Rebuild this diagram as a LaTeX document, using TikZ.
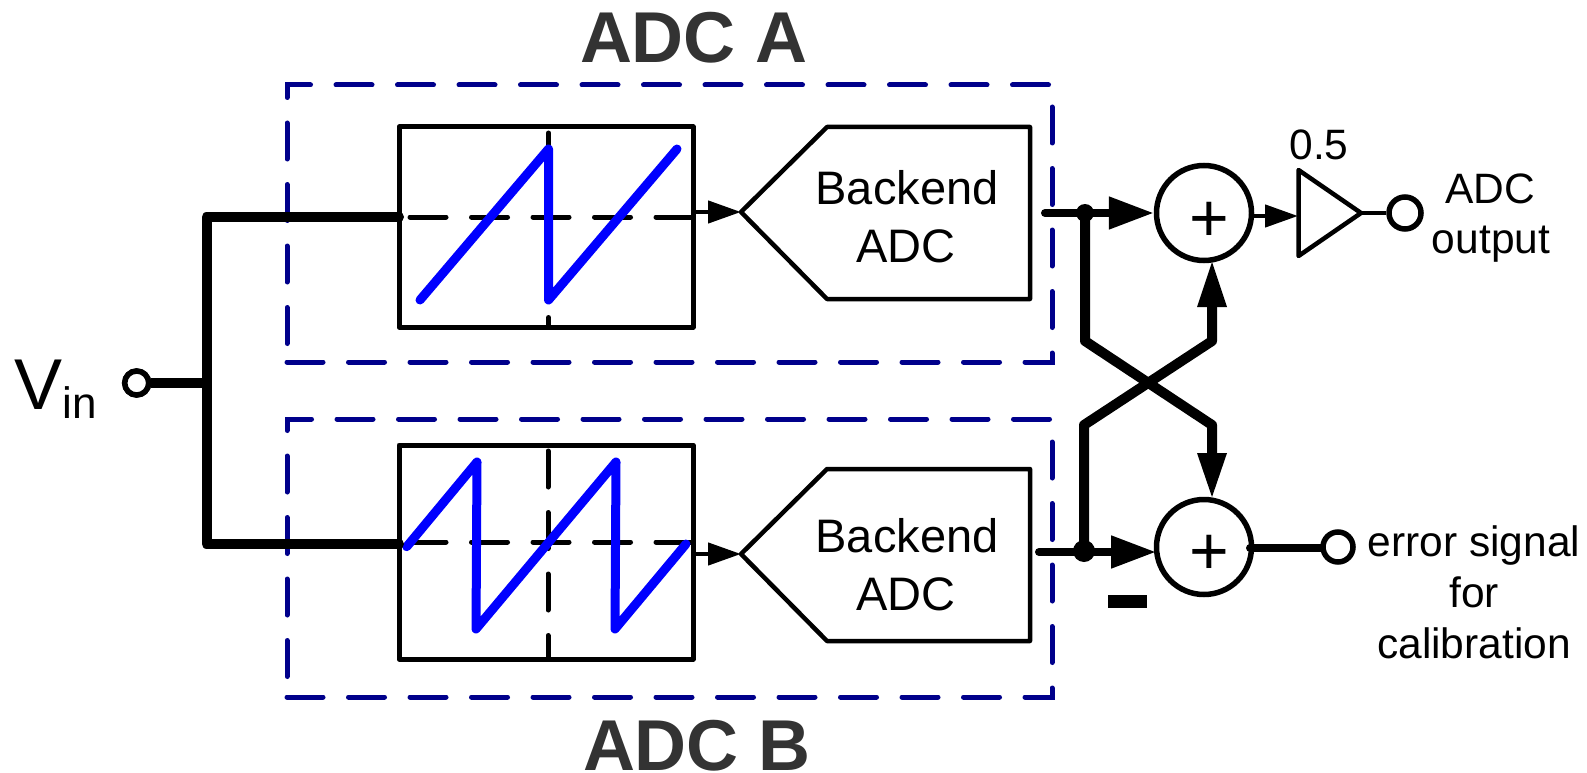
\documentclass[tikz,border=0pt]{standalone}
\usepackage{fontspec}
\setmainfont{Liberation Sans}
\usetikzlibrary{arrows.meta,calc}
\definecolor{framenavy}{RGB}{0,0,139}
\definecolor{titlegray}{RGB}{51,51,51}
\definecolor{rampblue}{RGB}{0,0,255}
\tikzset{
  frame/.style={draw=framenavy,line width=5pt,line cap=round,line join=miter,dash pattern=on 36pt off 25.5pt},
  adcbox/.style={draw=black,line width=5pt,rectangle,inner sep=0pt,minimum width=294pt,minimum height=#1,line join=round},
  guide/.style={draw=black,line width=5pt,line cap=round,dash pattern=on 36pt off 25.5pt},
  ramp/.style={draw=rampblue,line width=9pt,line cap=round,line join=round},
  outline/.style={draw=black,line width=4.5pt,line join=round},
  wire/.style={draw=black,line width=10pt,line cap=round,line join=round},
  thinwire/.style={draw=black,line width=4.5pt},
  midwire/.style={draw=black,line width=8pt,line cap=round},
  bighead/.style={-{Triangle[length=45pt,width=31pt]}},
  smallhead/.style={-{Triangle[length=33pt,width=22pt]}},
  sumnode/.style={circle,draw=black,line width=5.5pt,fill=white,inner sep=0pt,minimum size=95pt},
  port/.style={circle,draw=black,line width=5.5pt,fill=white,inner sep=0pt,minimum size=#1},
  dot/.style={circle,fill=black,inner sep=0pt,minimum size=#1},
  lbl/.style={anchor=base,inner sep=0pt,font=\fontsize{42.5}{42.5}\selectfont,text=black},
  blbl/.style={anchor=base,inner sep=0pt,font=\fontsize{47}{47}\selectfont,text=black},
  title/.style={anchor=base,inner sep=0pt,font=\fontsize{72}{72}\selectfont\bfseries,text=titlegray},
  plus/.style={inner sep=0pt,font=\fontsize{68}{68}\selectfont,text=black}
}
\begin{document}
\begin{tikzpicture}[x=1pt,y=-1pt]
\useasboundingbox (0,0) rectangle (1587,773);

% titles
\node[title] (titleA) at (694,63) {ADC A};
\node[title] (titleB) at (697,770) {ADC B};

% dashed frames
\draw[frame] (287,362) -- (1052,362) -- (1052,85) -- (287,85) -- cycle;
\draw[frame] (287,697) -- (1052,697) -- (1052,419) -- (287,419) -- cycle;

% boxes
\node[adcbox=200pt] (boxA) at (546,227) {};
\node[adcbox=214pt] (boxB) at (546,552) {};

% guides
\draw[guide] (410,217) -- (691,217);
\draw[guide] (548.5,133) -- (548.5,325);
\draw[guide] (410,542) -- (691,542);
\draw[guide] (548,451) -- (548,657);

% ramps
\draw[ramp] (420,300) -- (548.5,149) -- (548.5,300) -- (677,149);
\draw[ramp] (406.7,546.7) -- (477,462) -- (476,629) -- (616,462) -- (615,629) -- (686,544);

% Backend ADC pentagons
\coordinate (tipA) at (741,212);
\coordinate (tipB) at (741,554);
\draw[outline] (tipA) -- (827,127) -- (1030,127) -- (1030,299) -- (827,299) -- cycle;
\draw[outline] (tipB) -- (827,469) -- (1030,469) -- (1030,641) -- (827,641) -- cycle;
\node[blbl] (backA1) at (907,204) {Backend};
\node[blbl] (backA2) at (906,262) {ADC};
\node[blbl] (backB1) at (907,552) {Backend};
\node[blbl] (backB2) at (906,610) {ADC};

% box to backend arrows
\coordinate (boxAout) at (693,212);
\coordinate (boxBout) at (693,554);
\draw[thinwire,smallhead] (boxAout) -- (tipA);
\draw[thinwire,smallhead] (boxBout) -- (tipB);

% input
\node[port=24pt] (vin) at (136.7,383) {};
\coordinate (trunkTop) at (206.6,217);
\coordinate (trunkBot) at (206.6,544);
\coordinate (trunkMid) at (206.6,383);
\coordinate (inA) at (399,217);
\coordinate (inB) at (399,544);
\draw[wire] (inA) -- (trunkTop) -- (trunkBot) -- (inB);
\draw[wire,line cap=butt] (vin) -- (trunkMid);
\node[port=24pt] at (vin) {};
\node[anchor=base,inner sep=0pt,font=\fontsize{72}{72}\selectfont] (vinV) at (39,409) {V};
\node[anchor=base,inner sep=0pt,font=\fontsize{44}{44}\selectfont] (vinSub) at (80,418) {in};

% summers
\node[sumnode] (sumA) at (1204,213) {};
\node[sumnode] (sumB) at (1204,547) {};
\node[plus] (plusA) at (1209,222) {+};
\node[plus] (plusB) at (1209,554.5) {+};

% output wires and cross coupling
\coordinate (outA) at (1045,213);
\coordinate (outB) at (1039,552);
\node[dot=18pt] (dotA) at (1085,213) {};
\node[dot=22pt] (dotB) at (1084,551) {};
\coordinate (sumAup) at (1212,262);
\coordinate (sumBdown) at (1212,497);
\draw[wire] (dotA.center) -- (1085,341) -- (1212,425) -- ($(sumBdown)+(0,-30)$);
\draw[wire] (dotB.center) -- (1084,425) -- (1212,341) -- ($(sumAup)+(0,30)$);
\draw[draw=none,fill=black] (1197,453) -- (1227,453) -- (sumBdown) -- cycle;
\draw[draw=none,fill=black] (1197,307) -- (1227,307) -- (sumAup) -- cycle;
\coordinate (sumBin) at (1156,552);
\draw[midwire,bighead] (outA) -- (sumA.west);
\draw[midwire,bighead] (outB) -- (sumBin);

% output stage
\coordinate (triTL) at (1298.5,170);
\coordinate (triBL) at (1298.5,256);
\coordinate (triTip) at (1361,213);
\coordinate (triIn) at (1298,216);
\draw[thinwire,smallhead] (sumA.east |- triIn) -- (triIn);
\draw[outline] (triTL) -- (triTip) -- (triBL) -- cycle;
\node[port=32pt] (portA) at (1405,213) {};
\draw[thinwire] (triTip) -- (portA);
\node[port=30pt] (portB) at (1338,547) {};
\draw[midwire] (1250,548) -- (portB.west |- 0,548);

% minus sign
\fill[black] (1108,595) rectangle (1147,608);

% labels
\node[lbl] (gain) at (1319,159) {0.5};
\node[lbl] (out1) at (1490,203) {ADC};
\node[lbl] (out2) at (1491,253) {output};
\node[lbl] (err1) at (1474,556) {error signal};
\node[lbl] (err2) at (1474,607) {for};
\node[lbl] (err3) at (1474,658) {calibration};
\end{tikzpicture}
\end{document}
